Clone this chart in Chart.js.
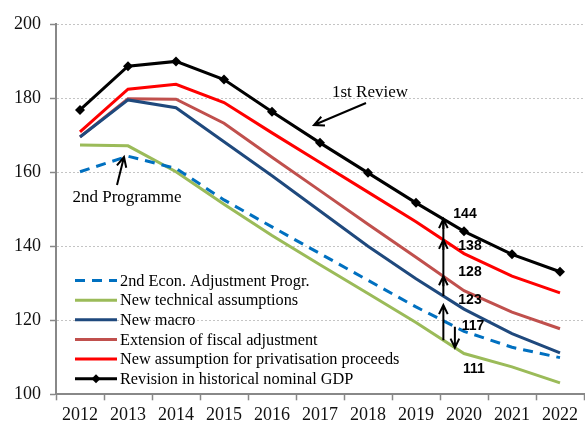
<!DOCTYPE html>
<html>
<head>
<meta charset="utf-8">
<script src="https://cdn.jsdelivr.net/npm/chart.js@4"></script>
<style>
  html, body { margin: 0; padding: 0; background: #fff; overflow: hidden; }
  canvas { display: block; }
</style>
</head>
<body>
<canvas id="debt-chart" width="589" height="423"></canvas>
<script>
// Debt path scenarios (% of GDP)
const years = ['2012', '2013', '2014', '2015', '2016', '2017', '2018', '2019', '2020', '2021', '2022'];

const secondProgramme = [160.1, 164.3, 161.0, 152.5, 145.2, 138.0, 130.8, 123.6, 117, 112.7, 109.9];
const technical       = [167.3, 167.1, 160.1, 151.3, 142.9, 135.0, 127.2, 119.4, 111, 107.4, 103.1];
const newMacro        = [169.5, 179.5, 177.4, 168.2, 159.0, 149.5, 140.0, 131.2, 123, 116.4, 111.2];
const fiscalExt       = [169.5, 179.8, 179.7, 173.2, 164.0, 155.0, 145.9, 137.0, 128, 122.2, 117.7];
const privatisation   = [170.9, 182.4, 183.7, 178.8, 170.6, 162.6, 154.6, 146.6, 138, 131.9, 127.4];
const historicalGdp   = [176.8, 188.6, 189.9, 185.0, 176.3, 167.9, 159.8, 151.7, 144, 137.8, 133.1];

const yTicks = [100, 120, 140, 160, 180, 200];

const serif = '"Liberation Serif", "Times New Roman", serif';

function line(label, data, color, extra) {
    return Object.assign({
        label: label,
        data: data,
        borderColor: color,
        backgroundColor: color,
        borderWidth: 3,
        pointRadius: 0,
        tension: 0,
        fill: false
    }, extra || {});
}

// value of a series at a fractional category index
function valueAt(data, idx) {
    const i = Math.floor(idx);
    const f = idx - i;
    return data[i] + (data[i + 1] - data[i]) * f;
}

function drawArrow(ctx, x1, y1, x2, y2, head) {
    const a = Math.atan2(y2 - y1, x2 - x1);
    const h = head || 9;
    ctx.beginPath();
    ctx.moveTo(x1, y1);
    ctx.lineTo(x2, y2);
    ctx.moveTo(x2 - h * Math.cos(a - 0.45), y2 - h * Math.sin(a - 0.45));
    ctx.lineTo(x2, y2);
    ctx.lineTo(x2 - h * Math.cos(a + 0.45), y2 - h * Math.sin(a + 0.45));
    ctx.stroke();
}

const annotations = {
    id: 'annotations',
    afterDatasetsDraw(chart) {
        const ctx = chart.ctx;
        const x = chart.scales.x;
        const y = chart.scales.y;
        ctx.save();
        ctx.strokeStyle = '#000';
        ctx.fillStyle = '#000';
        ctx.lineWidth = 2;
        ctx.lineCap = 'butt';

        // text callouts
        ctx.font = '17px ' + serif;
        ctx.textAlign = 'center';
        ctx.textBaseline = 'middle';
        ctx.fillText('1st Review', 370, 93);
        drawArrow(ctx, 366, 103, 314, 125, 11);
        ctx.fillText('2nd Programme', 127, 198);
        drawArrow(ctx, 117, 185, 124, 157, 11);

        // stacked arrows just before 2020
        const xi = 7.57;
        const ax = x.getPixelForValue(xi);
        const yBlack = y.getPixelForValue(valueAt(historicalGdp, xi));
        const yRed = y.getPixelForValue(valueAt(privatisation, xi));
        const yBrown = y.getPixelForValue(valueAt(fiscalExt, xi));
        const yBlue = y.getPixelForValue(valueAt(newMacro, xi));
        const yGreen = y.getPixelForValue(valueAt(technical, xi));
        ctx.beginPath();
        ctx.moveTo(ax, yBlue);
        ctx.lineTo(ax, yBlack);
        ctx.stroke();
        [yBlack, yRed, yBrown].forEach(function (tip) {
            drawArrow(ctx, ax, tip + 10, ax, tip, 10);
        });
        drawArrow(ctx, ax, yGreen, ax, yBlue + 9, 10);

        // down arrow from the programme path to technical assumptions
        const di = 7.81;
        const dx = x.getPixelForValue(di);
        drawArrow(ctx, dx, y.getPixelForValue(valueAt(secondProgramme, di)),
            dx, y.getPixelForValue(valueAt(technical, di)), 10);

        // 2020 values
        const x20 = x.getPixelForValue(8);
        ctx.font = 'bold 14px "Liberation Sans", Arial, sans-serif';
        const labels = [
            [historicalGdp, 1, -17],
            [privatisation, 6, -7],
            [fiscalExt, 6, -18],
            [newMacro, 6, -9],
            [secondProgramme, 9, -5],
            [technical, 10, 16]
        ];
        labels.forEach(function (l) {
            const v = l[0][8];
            ctx.fillText(String(v), x20 + l[1], y.getPixelForValue(v) + l[2]);
        });

        // legend inside the plot
        ctx.font = '16.3px ' + serif;
        ctx.textAlign = 'left';
        const rows = chart.data.datasets;
        rows.forEach(function (ds, i) {
            const ry = 280.5 + i * 19.65;
            ctx.strokeStyle = ds.borderColor;
            ctx.lineWidth = 3;
            ctx.setLineDash(ds.borderDash || []);
            ctx.beginPath();
            ctx.moveTo(75, ry);
            ctx.lineTo(117, ry);
            ctx.stroke();
            ctx.setLineDash([]);
            if (ds.pointRadius) {
                ctx.fillStyle = ds.borderColor;
                ctx.beginPath();
                ctx.moveTo(96, ry - 4.5);
                ctx.lineTo(100.5, ry);
                ctx.lineTo(96, ry + 4.5);
                ctx.lineTo(91.5, ry);
                ctx.closePath();
                ctx.fill();
            }
            ctx.fillStyle = '#000';
            ctx.fillText(ds.label, 120, ry + 1);
        });
        ctx.restore();
    }
};

new Chart(document.getElementById('debt-chart'), {
    type: 'line',
    data: {
        labels: years,
        datasets: [
            line('2nd Econ. Adjustment Progr.', secondProgramme, '#0070C0', { borderDash: [10, 7] }),
            line('New technical assumptions', technical, '#9BBB59'),
            line('New macro', newMacro, '#1F497D'),
            line('Extension of fiscal adjustment', fiscalExt, '#C0504D'),
            line('New assumption for privatisation proceeds', privatisation, '#FF0000'),
            line('Revision in historical nominal GDP', historicalGdp, '#000000', {
                pointRadius: 5,
                pointStyle: 'rectRot',
                pointBorderWidth: 0
            })
        ]
    },
    options: {
        responsive: false,
        animation: false,
        layout: { padding: { top: 24, right: 0, bottom: 0, left: 0 } },
        plugins: {
            legend: { display: false },
            tooltip: { enabled: false }
        },
        scales: {
            x: {
                offset: true,
                grid: {
                    offset: true,
                    drawOnChartArea: false,
                    tickLength: 6,
                    tickColor: '#888',
                    tickWidth: 1.5
                },
                border: { color: '#888', width: 2 },
                ticks: {
                    color: '#111',
                    padding: 4,
                    maxRotation: 0,
                    font: { family: serif, size: 18 }
                },
                afterFit: function (scale) { scale.height = 28.7; }
            },
            y: {
                min: 100,
                max: 200,
                afterBuildTicks: function (scale) {
                    scale.ticks = yTicks.map(function (v) { return { value: v }; });
                },
                grid: {
                    color: '#c4c4c4',
                    lineWidth: 1,
                    tickLength: 6,
                    tickColor: '#888',
                    tickWidth: 1.5
                },
                border: { color: '#888', width: 2, dash: [2, 2] },
                ticks: {
                    color: '#111',
                    padding: 9,
                    font: { family: serif, size: 18 }
                },
                afterFit: function (scale) { scale.width = 56; }
            }
        }
    },
    plugins: [annotations]
});
</script>
</body>
</html>
